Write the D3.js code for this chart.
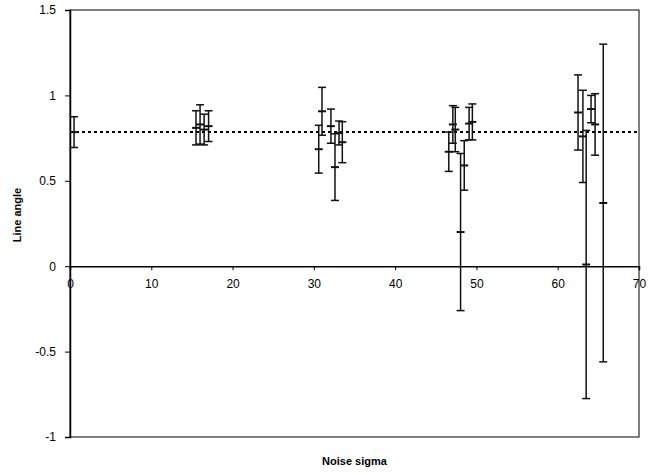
<!DOCTYPE html>
<html>
<head>
<meta charset="utf-8">
<script src="https://cdn.jsdelivr.net/npm/d3@7"></script>
<style>
  body { margin: 0; background: #fff; }
  svg text { font-family: "Liberation Sans", Arial, sans-serif; }
</style>
</head>
<body>
<svg id="chart" width="668" height="475"></svg>
<script>
// noise sigma, measured angle and error (+/-) for each run
const sigma = [0.5,
  15.5, 16.0, 16.5, 17.05,
  30.6, 31.0, 32.1, 32.6, 33.1, 33.5,
  46.6, 47.1, 47.4, 48.05, 48.5, 49.1, 49.5,
  62.5, 63.1, 63.5, 64.1, 64.6, 65.6];
const angle = [0.785,
  0.81, 0.83, 0.80, 0.82,
  0.685, 0.907, 0.82, 0.58, 0.78, 0.726,
  0.67, 0.83, 0.80, 0.20, 0.59, 0.835, 0.845,
  0.90, 0.76, 0.01, 0.92, 0.83, 0.37];
const errs = [0.09,
  0.10, 0.115, 0.09, 0.09,
  0.14, 0.14, 0.10, 0.195, 0.07, 0.12,
  0.115, 0.11, 0.13, 0.46, 0.145, 0.095, 0.105,
  0.22, 0.27, 0.785, 0.08, 0.18, 0.93];
const trueAngle = Math.PI / 4;
const xTicks = [0, 10, 20, 30, 40, 50, 60, 70];
const yTicks = [-1, -0.5, 0, 0.5, 1, 1.5];

const svg = d3.select("#chart");
const plotL = 70, plotR = 639, plotT = 10, plotB = 437;

const x = d3.scaleLinear().domain([0, 70]).range([plotL, plotR]);
const y = d3.scaleLinear().domain([-1, 1.5]).range([plotB, plotT]);

// plot frame
svg.append("rect")
  .attr("x", plotL).attr("y", plotT)
  .attr("width", plotR - plotL).attr("height", plotB - plotT)
  .attr("fill", "none").attr("stroke", "#000").attr("stroke-width", 1);

// y axis
const yAxis = svg.append("g")
  .attr("transform", `translate(${plotL},0)`)
  .call(d3.axisLeft(y).tickValues(yTicks).tickSize(5).tickPadding(9)
    .tickFormat(d => String(d)));
yAxis.select(".domain").attr("stroke", "#000").attr("stroke-width", 1.5);
yAxis.selectAll("text").attr("font-size", 12).attr("fill", "#000");

// x axis crossing at zero
const xAxis = svg.append("g")
  .attr("transform", `translate(0,${y(0)})`)
  .call(d3.axisBottom(x).tickValues(xTicks).tickSize(4).tickPadding(9)
    .tickFormat(d => String(d)));
xAxis.select(".domain").attr("stroke", "#000").attr("stroke-width", 1.5);
xAxis.selectAll("text").attr("font-size", 12).attr("fill", "#000");

// true angle reference
svg.append("line")
  .attr("x1", x(0)).attr("x2", x(70))
  .attr("y1", y(trueAngle)).attr("y2", y(trueAngle))
  .attr("stroke", "#000").attr("stroke-width", 2)
  .attr("stroke-dasharray", "3,3");

// error bars
const pts = sigma.map((s, i) => ({ s: s, a: angle[i], e: errs[i] }));
const bars = svg.append("g").selectAll("g").data(pts).join("g")
  .attr("stroke", "#111").attr("stroke-width", 1.5);
bars.append("line")
  .attr("x1", d => x(d.s)).attr("x2", d => x(d.s))
  .attr("y1", d => y(d.a + d.e)).attr("y2", d => y(d.a - d.e));
bars.append("line")
  .attr("x1", d => x(d.s) - 4).attr("x2", d => x(d.s) + 4)
  .attr("y1", d => y(d.a + d.e)).attr("y2", d => y(d.a + d.e));
bars.append("line")
  .attr("x1", d => x(d.s) - 4).attr("x2", d => x(d.s) + 4)
  .attr("y1", d => y(d.a - d.e)).attr("y2", d => y(d.a - d.e));
bars.append("line")
  .attr("x1", d => x(d.s) - 4).attr("x2", d => x(d.s) + 4)
  .attr("y1", d => y(d.a)).attr("y2", d => y(d.a))
  .attr("stroke-width", 2);

// axis titles
svg.append("text")
  .attr("x", (plotL + plotR) / 2).attr("y", 465)
  .attr("text-anchor", "middle")
  .attr("font-size", 11).attr("font-weight", "bold")
  .text("Noise sigma");
svg.append("text")
  .attr("transform", `translate(21,215) rotate(-90)`)
  .attr("text-anchor", "middle")
  .attr("font-size", 11).attr("font-weight", "bold")
  .text("Line angle");
</script>
</body>
</html>
